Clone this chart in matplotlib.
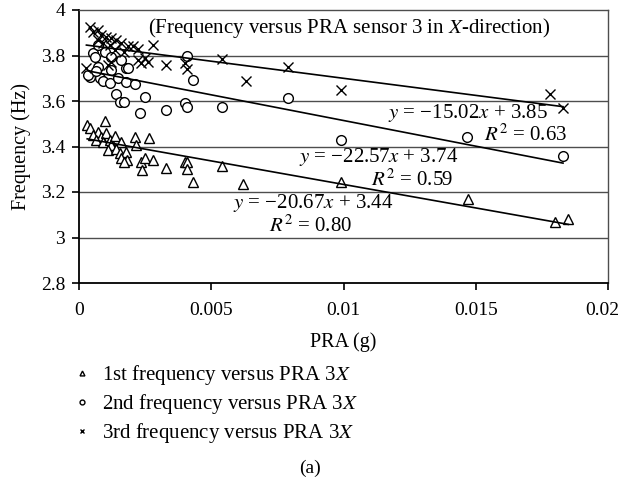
import matplotlib
matplotlib.use("Agg")
import matplotlib.pyplot as plt
import matplotlib.transforms as mtransforms
import numpy as np

plt.rcParams['font.family'] = ['Liberation Serif', 'DejaVu Serif']
plt.rcParams['mathtext.fontset'] = 'stix'

# PRA (g) and frequency (Hz) for the three modes, sensor 3, X-direction
pra_1st = [0.00031, 0.00040, 0.00100, 0.00072, 0.00053, 0.00084, 0.00103, 0.00065,
           0.00090, 0.00116, 0.00137, 0.00160, 0.00122, 0.00110, 0.00141, 0.00154,
           0.00179, 0.00160, 0.00183, 0.00172, 0.00210, 0.00217, 0.00263, 0.00233,
           0.00248, 0.00280, 0.00238, 0.00330, 0.00400, 0.00410, 0.00410, 0.00430,
           0.00540, 0.00620, 0.00990, 0.01470, 0.01800, 0.01850]
freq_1st = [3.495, 3.480, 3.513, 3.465, 3.450, 3.443, 3.458, 3.430,
            3.420, 3.430, 3.446, 3.420, 3.407, 3.385, 3.390, 3.373,
            3.377, 3.350, 3.340, 3.333, 3.443, 3.407, 3.436, 3.333,
            3.348, 3.340, 3.297, 3.304, 3.333, 3.333, 3.300, 3.245,
            3.314, 3.235, 3.245, 3.170, 3.070, 3.080]

pra_2nd = [0.00040, 0.00078, 0.00090, 0.00116, 0.00147, 0.00122, 0.00179, 0.00179,
           0.00210, 0.00141, 0.00154, 0.00170, 0.00248, 0.00229, 0.00330, 0.00072,
           0.00053, 0.00097, 0.00072, 0.00122, 0.00160, 0.00185, 0.00035, 0.00065,
           0.00060, 0.00410, 0.00430, 0.00400, 0.00410, 0.00540, 0.00790, 0.00990,
           0.01466, 0.01830]
freq_2nd = [3.707, 3.700, 3.690, 3.678, 3.700, 3.736, 3.744, 3.685,
            3.675, 3.630, 3.597, 3.597, 3.619, 3.546, 3.560, 3.750,
            3.810, 3.817, 3.846, 3.795, 3.780, 3.744, 3.714, 3.730,
            3.795, 3.798, 3.692, 3.590, 3.572, 3.572, 3.612, 3.430,
            3.443, 3.360]

pra_3rd = [0.00040, 0.00053, 0.00072, 0.00084, 0.00103, 0.00122, 0.00141, 0.00160,
           0.00185, 0.00204, 0.00223, 0.00280, 0.00116, 0.00135, 0.00172, 0.00122,
           0.00110, 0.00223, 0.00248, 0.00236, 0.00260, 0.00028, 0.00330, 0.00072,
           0.00090, 0.00400, 0.00410, 0.00540, 0.00630, 0.00790, 0.00990, 0.01780,
           0.01830]
freq_3rd = [3.924, 3.905, 3.912, 3.890, 3.883, 3.875, 3.868, 3.853,
            3.842, 3.840, 3.830, 3.846, 3.846, 3.824, 3.817, 3.773,
            3.758, 3.780, 3.788, 3.766, 3.773, 3.744, 3.758, 3.868,
            3.853, 3.766, 3.740, 3.783, 3.690, 3.750, 3.648, 3.630,
            3.568]

# Linear trend lines: slope, intercept, R^2
slopes = [-20.67, -22.57, -15.02]
intercepts = [3.44, 3.74, 3.85]
r2_values = [0.80, 0.59, 0.63]

labels = ["1st frequency versus PRA 3$X$",
          "2nd frequency versus PRA 3$X$",
          "3rd frequency versus PRA 3$X$"]

y_ticks = [2.8, 3.0, 3.2, 3.4, 3.6, 3.8, 4.0]
y_ticklabels = ["2.8", "3", "3.2", "3.4", "3.6", "3.8", "4"]
x_ticks = [0, 0.005, 0.01, 0.015, 0.02]
x_ticklabels = ["0", "0.005", "0.01", "0.015", "0.02"]

fig = plt.figure(figsize=(6.21, 4.83), dpi=100)
ax = fig.add_axes([79/621, 1-283/483, (608-79)/621, (283-10)/483])

ax.set_xlim(0, 0.02)
ax.set_ylim(2.8, 4.0)
ax.set_yticks(y_ticks)
ax.set_yticklabels(y_ticklabels)
ax.set_xticks(x_ticks)
ax.set_xticklabels(x_ticklabels)
ax.tick_params(direction='out', length=5, width=1.2, labelsize=14, pad=5)
ax.tick_params(axis='x', pad=9)

# keep the last x tick label inside the figure edge
last = ax.get_xticklabels()[-1]
last.set_transform(last.get_transform() +
                   mtransforms.ScaledTranslation(-6/100, 0, fig.dpi_scale_trans))

for y in y_ticks[1:-1]:
    ax.axhline(y, color='#4d4d4d', lw=1.0, zorder=1)
for side in ['left', 'bottom']:
    ax.spines[side].set_linewidth(1.3)
for side in ['top', 'right']:
    ax.spines[side].set_color('#4d4d4d')
    ax.spines[side].set_linewidth(1.0)

ms = 7
h1, = ax.plot(pra_1st, freq_1st, ls='none', marker='^', ms=ms, mfc='white',
              mec='black', mew=1.0, zorder=3)
h2, = ax.plot(pra_2nd, freq_2nd, ls='none', marker='o', ms=ms, mfc='white',
              mec='black', mew=1.0, zorder=3)
h3, = ax.plot(pra_3rd, freq_3rd, ls='none', marker='x', ms=6.5, mec='black',
              mew=1.0, zorder=3)

for xs, m, b in zip([pra_1st, pra_2nd, pra_3rd], slopes, intercepts):
    xx = np.array([min(xs), max(xs)])
    ax.plot(xx, m * xx + b, color='black', lw=1.2, zorder=4)

fs = 15
ax.text(0.0102, 3.92, "(Frequency versus PRA sensor 3 in $X$-direction)",
        ha='center', va='center', fontsize=fs)

eq_pos = [(0.01187, 3.152, 0.01032, 3.050),
          (0.01433, 3.354, 0.01414, 3.253),
          (0.01773, 3.547, 0.01845, 3.450)]
for (ex, ey, rx, ry), m, b, r2 in zip(eq_pos, slopes, intercepts, r2_values):
    ax.text(ex, ey, f"$y$ = \u2212{abs(m):.2f}$x$ + {b:.2f}",
            ha='right', va='center', fontsize=fs, zorder=5)
    ax.text(rx, ry, f"$R^2$ = {r2:.2f}", ha='right', va='center',
            fontsize=fs, zorder=5)

ax.set_ylabel("Frequency (Hz)", fontsize=14.5, labelpad=7)
ax.set_xlabel("PRA (g)", fontsize=14.5, labelpad=9)

fig.legend([h1, h2, h3], labels, loc='upper left',
           bbox_to_anchor=(74/621, 1-363/483), frameon=False, fontsize=15,
           markerscale=0.5, handlelength=0.8, handletextpad=0.56,
           labelspacing=0.24, borderpad=0, borderaxespad=0)

fig.text(310/621, 1-468/483, "(a)", ha='center', va='center', fontsize=14)

fig.savefig("out.png", dpi=100)
